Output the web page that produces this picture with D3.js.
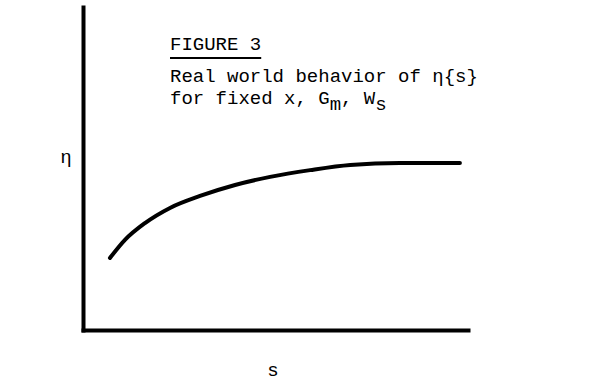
<!DOCTYPE html>
<html>
<head>
<meta charset="utf-8">
<script src="https://cdn.jsdelivr.net/npm/d3@7"></script>
<style>
  html, body { margin: 0; padding: 0; background: #fff; }
  svg { display: block; }
</style>
</head>
<body>
<svg id="chart" width="605" height="379"></svg>
<script>
// Efficiency η as a function of s (qualitative saturation curve)
const sValues   = [0.70, 1.09, 1.61, 2.26, 3.04, 3.95, 4.86, 5.90, 6.94, 8.23, 9.79];
const etaValues = [2.23, 2.79, 3.31, 3.78, 4.15, 4.49, 4.74, 4.95, 5.11, 5.17, 5.17];

const sDomain = [0, 10];
const etaDomain = [0, 10];

const titleText = "FIGURE 3";
const captionLine1 = "Real world behavior of η{s}";
const xLabel = "s";
const yLabel = "η";

const svg = d3.select("#chart");

const x = d3.scaleLinear().domain(sDomain).range([83, 468]);
const y = d3.scaleLinear().domain(etaDomain).range([330, 7]);

// Axes: plain heavy lines, no ticks
svg.append("g")
  .attr("transform", `translate(0,${y(0)})`)
  .call(d3.axisBottom(x).tickValues([]).tickSizeOuter(0));
svg.append("g")
  .attr("transform", `translate(${x(0)},0)`)
  .call(d3.axisLeft(y).tickValues([]).tickSizeOuter(0));
svg.selectAll(".domain")
  .attr("stroke", "#000")
  .attr("stroke-width", 4)
  .attr("stroke-linecap", "square");

// Curve
const line = d3.line()
  .x((d, i) => x(sValues[i]))
  .y(d => y(d))
  .curve(d3.curveMonotoneX);

svg.append("path")
  .datum(etaValues)
  .attr("d", line)
  .attr("fill", "none")
  .attr("stroke", "#000")
  .attr("stroke-width", 4)
  .attr("stroke-linecap", "round");

// Title block
const mono = "'Liberation Mono', 'Courier New', monospace";
const title = svg.append("text")
  .attr("x", 170).attr("y", 50)
  .attr("font-family", mono).attr("font-size", 19)
  .attr("fill", "#000")
  .text(titleText);
const tw = title.node().getComputedTextLength();
svg.append("line")
  .attr("x1", 170).attr("x2", 170 + tw)
  .attr("y1", 58).attr("y2", 58)
  .attr("stroke", "#000").attr("stroke-width", 2);

svg.append("text")
  .attr("x", 170).attr("y", 82)
  .attr("font-family", mono).attr("font-size", 19)
  .attr("fill", "#000")
  .text(captionLine1);

const l2 = svg.append("text")
  .attr("x", 170).attr("y", 104)
  .attr("font-family", mono).attr("font-size", 19)
  .attr("fill", "#000");
l2.append("tspan").text("for fixed x, G");
l2.append("tspan").attr("dy", 6).text("m");
l2.append("tspan").attr("dy", -6).text(", W");
l2.append("tspan").attr("dy", 6).text("s");

// Axis labels
const sans = "'Liberation Sans', Arial, sans-serif";
svg.append("text")
  .attr("x", 273).attr("y", 376)
  .attr("text-anchor", "middle")
  .attr("font-family", sans).attr("font-size", 19)
  .text(xLabel);
svg.append("text")
  .attr("x", 66).attr("y", 163)
  .attr("text-anchor", "middle")
  .attr("font-family", sans).attr("font-size", 19)
  .text(yLabel);
</script>
</body>
</html>
